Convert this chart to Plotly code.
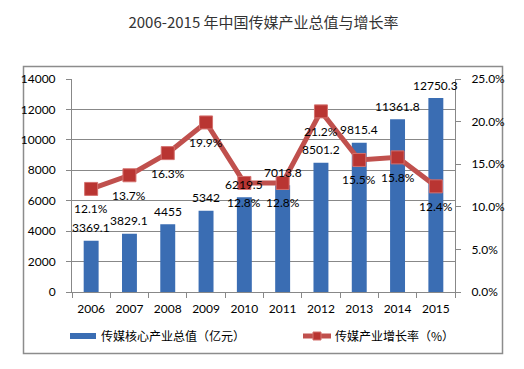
import plotly.graph_objects as go

years = ["2006", "2007", "2008", "2009", "2010", "2011", "2012", "2013", "2014", "2015"]
output_value = [3369.1, 3829.1, 4455, 5342, 6219.5, 7013.8, 8501.2, 9815.4, 11361.8, 12750.3]
growth_rate = [12.1, 13.7, 16.3, 19.9, 12.8, 12.8, 21.2, 15.5, 15.8, 12.4]
left_ticks = [0, 2000, 4000, 6000, 8000, 10000, 12000, 14000]
right_ticks = [0, 5, 10, 15, 20, 25]
bar_name = "传媒核心产业总值（亿元）"
line_name = "传媒产业增长率（%）"
title_text = "2006-2015 年中国传媒产业总值与增长率"

BLUE = "#3a6db3"
RED = "#c0504d"
LAB_FONT = dict(family="Lato, 'Liberation Sans', sans-serif", size=12, color="#000000")
TICK_FONT = dict(family="Lato, sans-serif", size=12, color="#000000")

fig = go.Figure()
fig.add_trace(go.Bar(
    x=years, y=output_value, name=bar_name,
    marker=dict(color=BLUE, line=dict(width=0)),
    width=0.39, showlegend=False,
))
fig.add_trace(go.Scatter(
    x=years, y=growth_rate, name=line_name, yaxis="y2",
    mode="lines+markers",
    line=dict(color=RED, width=5),
    marker=dict(symbol="square", size=13, color="#b93532", line=dict(color="#d4706d", width=1)),
    cliponaxis=False, showlegend=False,
))

L, R, T, B = 72, 69, 79, 77
W = 524 - L - R
H = 369 - T - B

def px(x):
    return (x - L) / W

def py(y):
    return (369 - B - y) / H

# annotations on a category axis take the category's serial index
annotations = []
for i, v in enumerate(output_value):
    annotations.append(dict(text=f"{v:g}", x=i, y=v, xref="x", yref="y",
                            xanchor="center", yanchor="middle", yshift=13,
                            showarrow=False, font=LAB_FONT))
for i, v in enumerate(growth_rate):
    annotations.append(dict(text=f"{v:.1f}%", x=i, y=v, xref="x", yref="y2",
                            xanchor="center", yanchor="middle", yshift=-20,
                            showarrow=False, font=LAB_FONT))

shapes = [
    dict(type="rect", xref="paper", yref="paper",
         x0=px(23.5), x1=px(502.5), y0=py(353.5), y1=py(66.5),
         line=dict(color="#8c8c8c", width=1.5), fillcolor="rgba(0,0,0,0)", layer="below"),
    dict(type="rect", xref="paper", yref="paper",
         x0=px(70), x1=px(96), y0=py(339), y1=py(333),
         line=dict(width=0), fillcolor=BLUE),
    dict(type="line", xref="paper", yref="paper",
         x0=px(303), x1=px(331), y0=py(336), y1=py(336),
         line=dict(color=RED, width=5)),
    dict(type="rect", xref="paper", yref="paper",
         x0=px(313), x1=px(321), y0=py(340), y1=py(332),
         line=dict(color="#d4706d", width=1), fillcolor="#b93532"),
]
legend_font = dict(family="'Noto Sans CJK SC', sans-serif", size=12, color="#000000")
annotations += [
    dict(text=bar_name, xref="paper", yref="paper", x=px(99), y=py(335),
         xanchor="left", yanchor="middle", showarrow=False, font=legend_font),
    dict(text=line_name, xref="paper", yref="paper", x=px(333), y=py(335),
         xanchor="left", yanchor="middle", showarrow=False, font=legend_font),
]

fig.update_layout(
    width=524, height=369,
    margin=dict(l=L, r=R, t=T, b=B, autoexpand=False),
    paper_bgcolor="white", plot_bgcolor="white",
    title=dict(text=title_text, x=0.5, xref="paper", xanchor="center",
               y=1 - 23 / 369, yref="container", yanchor="middle",
               font=dict(family="'Noto Sans CJK SC', sans-serif", size=15, color="#333333")),
    showlegend=False,
    bargap=0.61,
    xaxis=dict(type="category", range=[-0.5, len(years) - 0.5],
               showline=True, linecolor="#888888", linewidth=1,
               ticks="outside", ticklen=5, tickcolor="#888888", tickson="boundaries",
               tickangle=0, automargin=False, tickfont=TICK_FONT, ticklabelstandoff=6,
               showgrid=False),
    yaxis=dict(range=[0, 14000], tickvals=left_ticks, ticktext=[str(v) for v in left_ticks],
               showline=True, linecolor="#888888", linewidth=1, automargin=False,
               ticks="outside", ticklen=5, tickcolor="#888888",
               showgrid=True, gridcolor="#888888", gridwidth=1, zeroline=False,
               ticklabelstandoff=8, tickfont=TICK_FONT),
    yaxis2=dict(range=[0, 25], tickvals=right_ticks, ticktext=[f"{v:.1f}%" for v in right_ticks],
                overlaying="y", side="right", automargin=False,
                showline=True, linecolor="#888888", linewidth=1,
                ticks="outside", ticklen=5, tickcolor="#888888",
                showgrid=False, zeroline=False, ticklabelstandoff=8,
                tickfont=TICK_FONT),
    shapes=shapes, annotations=annotations,
)

fig.write_html("out.html", post_script="document.body.style.margin='0';",
               config={"displayModeBar": False})
